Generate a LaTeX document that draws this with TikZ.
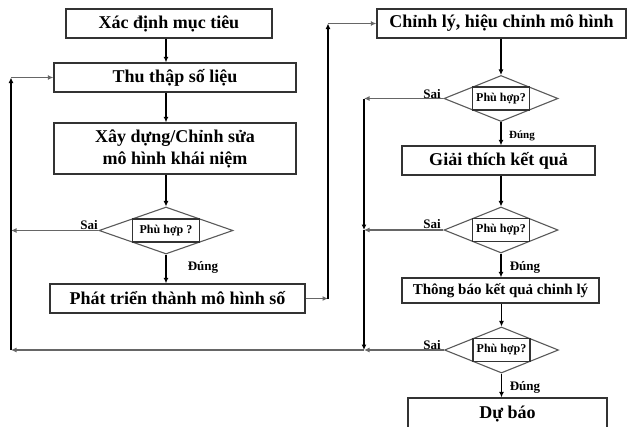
\documentclass[tikz,border=0pt]{standalone}
\usepackage{fontspec}
\setmainfont{Liberation Serif}
\usetikzlibrary{arrows.meta,shapes.geometric}
\definecolor{boxline}{HTML}{333333}
\definecolor{hline}{HTML}{666666}
\definecolor{dline}{HTML}{5A5A5A}

\begin{document}
\begin{tikzpicture}[x=1pt,y=-1pt,
  box/.style={draw=boxline, line width=1.3pt, minimum height=29pt, inner sep=1pt,
    font=\fontsize{18}{22}\selectfont\bfseries, align=center},
  decision/.style={draw=dline, diamond, line width=1.1pt, minimum width=114pt,
    minimum height=46pt, inner sep=0pt},
  query/.style={draw=boxline, line width=1.1pt, minimum width=57pt, minimum height=23pt,
    inner sep=0pt, font=\fontsize{12}{14}\selectfont\bfseries},
  vflow/.style={draw=black, line width=1.1pt, -{Latex[length=5.5pt,width=5pt]}},
  hflow/.style={draw=hline, line width=1.6pt, -{Latex[length=5.5pt,width=5pt]}},
  tag/.style={font=\fontsize{13}{15}\selectfont\bfseries, inner sep=0pt},
]
\useasboundingbox (0,0) rectangle (628,426);
\clip (0,0) rectangle (628,426);

% left column: building the conceptual and numerical model
\node[box, minimum width=206pt] (b1) at (169,23.5) {Xác định mục tiêu};
\node[box, minimum width=242pt] (b2) at (175,77.5) {Thu thập số liệu};
\node[box, minimum width=242pt, minimum height=51pt] (b3) at (175,148.5)
  {Xây dựng/Chỉnh sửa\\mô hình khái niệm};
\node[decision, minimum width=134pt, minimum height=47pt] (d1) at (166,230.5) {};
\node[query, minimum width=67pt] (q1) at (d1) {Phù hợp ?};
\node[box, minimum width=255pt] (b4) at (177.5,298.5) {Phát triển thành mô hình số};

% right column: calibration, verification, forecasting
\node[box, minimum width=249pt] (r1) at (501.5,23.5) {Chỉnh lý, hiệu chỉnh mô hình};
\node[decision] (d2) at (501,98.5) {};
\node[query] (q2) at (d2) {Phù hợp?};
\node[box, minimum width=193pt] (r2) at (498.5,160.5) {Giải thích kết quả};
\node[decision] (d3) at (501,230) {};
\node[query] (q3) at (d3) {Phù hợp?};
\node[box, minimum width=197pt, minimum height=25pt, font=\fontsize{15}{18}\selectfont\bfseries]
  (r3) at (500.5,290.5) {Thông báo kết quả chinh lý};
\node[decision] (d4) at (501.5,350) {};
\node[query] (q4) at (d4) {Phù hợp?};
\node[box, minimum width=199pt, minimum height=32pt] (r4) at (507.5,414) {Dự báo};

% columns of the feedback lines
\coordinate (L) at (11,0);
\coordinate (K) at (328,0);
\coordinate (M) at (364,0);

% main flow, left column
\draw[vflow] (b1.south -| d1.north) -- (b2.north -| d1.north);
\draw[vflow] (b2.south -| d1.north) -- (b3.north -| d1.north);
\draw[vflow] (b3.south -| d1.north) -- (d1.north);
\draw[vflow] (d1.south) -- (b4.north -| d1.south);
\draw[hflow] (d1.west) -- (d1.west -| L);
\draw[hflow] (b4.east) -- (b4.east -| K);
\draw[vflow] (b4.east -| K) -- (r1.west -| K);
\draw[hflow] (r1.west -| K) -- (r1.west);

% main flow, right column
\draw[vflow] (r1.south -| d2.north) -- (d2.north);
\draw[vflow] (d2.south) -- (r2.north -| d2.south);
\draw[vflow] (r2.south -| d3.north) -- (d3.north);
\draw[vflow] (d3.south) -- (r3.north -| d3.south);
\draw[vflow] (r3.south -| d4.north) -- (d4.north);
\draw[vflow] (d4.south) -- (r4.north -| d4.south);

% "Sai" branches back to data collection
\draw[hflow] (d2.west) -- (d2.west -| M);
\draw[vflow] (d2.west -| M) -- (d3.west -| M);
\draw[hflow] (d3.west) -- (d3.west -| M);
\draw[vflow] (d3.west -| M) -- (d4.west -| M);
\draw[hflow] (d4.west) -- (d4.west -| M);
\draw[hflow] (d4.west -| M) -- (d4.west -| L);
\draw[vflow] (d4.west -| L) -- (b2.west -| L);
\draw[hflow] (b2.west -| L) -- (b2.west);

% branch labels
\node[tag] (s1) at (89,225) {Sai};
\node[tag] (s2) at (432,94) {Sai};
\node[tag] (s3) at (432,224) {Sai};
\node[tag] (s4) at (432,345) {Sai};
\node[tag] (t1) at (203,267) {Đúng};
\node[tag, font=\fontsize{11}{13}\selectfont\bfseries] (t2) at (522,136) {Đúng};
\node[tag] (t3) at (525,267) {Đúng};
\node[tag] (t4) at (525,387) {Đúng};
\end{tikzpicture}
\end{document}
